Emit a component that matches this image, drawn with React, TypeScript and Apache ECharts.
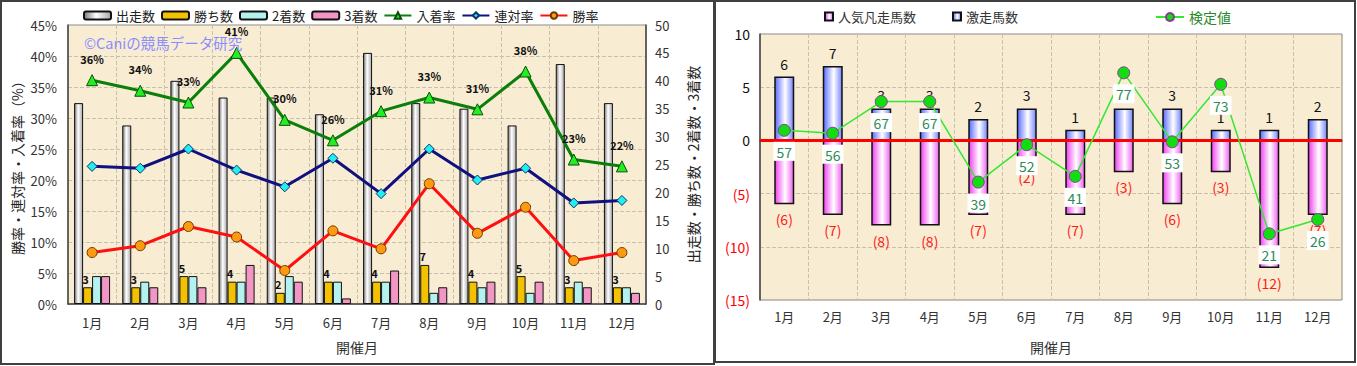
import React, { useEffect, useRef } from "react";
import * as echarts from "echarts";

const months = ["1月", "2月", "3月", "4月", "5月", "6月", "7月", "8月", "9月", "10月", "11月", "12月"];

// Left panel
const starters = [36, 32, 40, 37, 37, 34, 45, 36, 35, 32, 43, 36];
const wins = [3, 3, 5, 4, 2, 4, 4, 7, 4, 5, 3, 3];
const seconds = [5, 4, 5, 4, 5, 4, 4, 2, 3, 2, 4, 3];
const thirds = [5, 3, 3, 7, 4, 1, 6, 3, 4, 4, 3, 2];
const placeRate = [36.1, 34.4, 32.5, 40.5, 29.7, 26.4, 31.1, 33.3, 31.4, 37.5, 23.3, 22.2];
const quinellaRate = [22.2, 21.9, 25.0, 21.6, 18.9, 23.5, 17.8, 25.0, 20.0, 21.9, 16.3, 16.7];
const winRate = [8.3, 9.4, 12.5, 10.8, 5.4, 11.8, 8.9, 19.4, 11.4, 15.6, 7.0, 8.3];

// Right panel
const surgeCount = [6, 7, 3, 3, 2, 3, 1, 3, 3, 1, 1, 2];
const flopCount = [-6, -7, -8, -8, -7, -2, -7, -3, -6, -3, -12, -7];
const testValue = [57, 56, 67, 67, 39, 52, 41, 77, 53, 73, 21, 26];

const FONT = "'Noto Sans CJK JP', 'Noto Sans', sans-serif";

function hGrad(stops: [number, string][]) {
  return new echarts.graphic.LinearGradient(
    0, 0, 1, 0,
    stops.map(([offset, color]) => ({ offset, color }))
  );
}

export default function App() {
  const ref = useRef<HTMLDivElement>(null);

  useEffect(() => {
    if (!ref.current) return;
    const chart = echarts.init(ref.current, undefined, { renderer: "svg" });

    const splitLine = { show: true, lineStyle: { color: "#c9bfae", type: "dashed", width: 1 } };
    const axisLabel = { color: "#333", fontSize: 13, fontFamily: FONT };

    const option: any = {
      animation: false,
      backgroundColor: "#ffffff",
      textStyle: { fontFamily: FONT },
      graphic: [
        { type: "rect", shape: { x: 1, y: 1, width: 713, height: 363 }, style: { fill: "none", stroke: "#404040", lineWidth: 2 }, z: 100 },
        { type: "rect", shape: { x: 715, y: 1, width: 640, height: 361 }, style: { fill: "none", stroke: "#404040", lineWidth: 2 }, z: 100 },
        {
          type: "text",
          x: 84,
          y: 35,
          style: { text: "©Caniの競馬データ研究", fill: "#8a8cff", fontSize: 14.5, fontFamily: FONT },
          z: 50,
        },
      ],
      legend: [
        {
          left: 78,
          top: 4,
          itemWidth: 27,
          itemHeight: 8,
          itemGap: 6,
          textStyle: { fontSize: 13, color: "#222", fontFamily: FONT },
          data: ["出走数", "勝ち数", "2着数", "3着数", "入着率", "連対率", "勝率"],
        },
        {
          left: 819,
          top: 5,
          itemWidth: 8,
          itemHeight: 8,
          itemGap: 36,
          icon: "rect",
          textStyle: { fontSize: 13, color: "#333", fontFamily: FONT },
          data: ["人気凡走馬数", "激走馬数"],
        },
        {
          left: 1150,
          top: 5,
          itemWidth: 28,
          itemHeight: 10,
          textStyle: { fontSize: 14, color: "#2a8a2a", fontFamily: FONT },
          data: ["検定値"],
        },
      ],
      grid: [
        { left: 68, top: 25, width: 578, height: 279, show: true, backgroundColor: "#f8ecd2", borderColor: "#8a8a8a", borderWidth: 1 },
        { left: 760, top: 34, width: 582, height: 266, show: true, backgroundColor: "#f8ecd2", borderColor: "#8a8a8a", borderWidth: 1 },
      ],
      xAxis: [
        {
          type: "category",
          gridIndex: 0,
          data: months,
          axisLine: { lineStyle: { color: "#444", width: 1.5 } },
          axisTick: { show: false },
          axisLabel: { ...axisLabel, margin: 12 },
          splitLine,
          name: "開催月",
          nameLocation: "middle",
          nameGap: 36,
          nameTextStyle: { fontSize: 14, color: "#333", fontFamily: FONT },
        },
        {
          type: "category",
          gridIndex: 1,
          data: months,
          axisLine: { lineStyle: { color: "#444", width: 1.5 } },
          axisTick: { show: false },
          axisLabel: { ...axisLabel, margin: 10 },
          splitLine,
          name: "開催月",
          nameLocation: "middle",
          nameGap: 40,
          nameTextStyle: { fontSize: 14, color: "#333", fontFamily: FONT },
        },
      ],
      yAxis: [
        {
          type: "value",
          gridIndex: 0,
          min: 0,
          max: 45,
          interval: 5,
          axisLine: { show: true, lineStyle: { color: "#444", width: 1.5 } },
          axisTick: { show: false },
          axisLabel: { ...axisLabel, formatter: "{value}%", margin: 11 },
          splitLine,
          name: "勝率・連対率・入着率（%）",
          nameLocation: "middle",
          nameRotate: 90,
          nameGap: 44,
          nameTextStyle: { fontSize: 14, color: "#222", fontFamily: FONT },
        },
        {
          type: "value",
          gridIndex: 0,
          position: "right",
          min: 0,
          max: 50,
          interval: 5,
          axisLine: { show: true, lineStyle: { color: "#444", width: 1.5 } },
          axisTick: { show: false },
          axisLabel: { ...axisLabel, margin: 9 },
          splitLine: { show: false },
          name: "出走数・勝ち数・2着数・3着数",
          nameLocation: "middle",
          nameRotate: 90,
          nameGap: 40,
          nameTextStyle: { fontSize: 14, color: "#222", fontFamily: FONT },
        },
        {
          type: "value",
          gridIndex: 1,
          min: -15,
          max: 10,
          interval: 5,
          axisLine: { show: true, lineStyle: { color: "#444", width: 1.5 } },
          axisTick: { show: false },
          axisLabel: {
            margin: 10,
            fontSize: 14,
            fontFamily: FONT,
            formatter: (v: number) => (v < 0 ? "{n|(" + -v + ")}" : "{p|" + v + "}"),
            rich: {
              n: { color: "#ff0000", fontSize: 14, fontFamily: FONT },
              p: { color: "#111", fontSize: 14, fontFamily: FONT },
            },
          },
          splitLine,
        },
        {
          type: "value",
          gridIndex: 1,
          position: "right",
          min: -2,
          max: 90.5,
          show: false,
          splitLine: { show: false },
        },
      ],
      series: [
        {
          name: "出走数",
          type: "bar",
          xAxisIndex: 0,
          yAxisIndex: 1,
          data: starters,
          barWidth: 9,
          barGap: "0%",
          itemStyle: {
            color: hGrad([[0, "#7a7a7a"], [0.45, "#ffffff"], [1, "#a8a8a8"]]),
            borderColor: "#111",
            borderWidth: 1,
          },
        },
        {
          name: "勝ち数",
          type: "bar",
          xAxisIndex: 0,
          yAxisIndex: 1,
          data: wins,
          barWidth: 9,
          barGap: "0%",
          itemStyle: { color: "#f2c200", borderColor: "#111", borderWidth: 1 },
          label: {
            show: true,
            position: "top",
            distance: 3,
            offset: [-2, 0],
            fontSize: 11,
            fontWeight: "bold",
            color: "#111",
            fontFamily: FONT,
          },
        },
        {
          name: "2着数",
          type: "bar",
          xAxisIndex: 0,
          yAxisIndex: 1,
          data: seconds,
          barWidth: 9,
          barGap: "0%",
          itemStyle: { color: "#b4f2f2", borderColor: "#111", borderWidth: 1 },
        },
        {
          name: "3着数",
          type: "bar",
          xAxisIndex: 0,
          yAxisIndex: 1,
          data: thirds,
          barWidth: 9,
          barGap: "0%",
          itemStyle: { color: "#f296c6", borderColor: "#111", borderWidth: 1 },
        },
        {
          name: "入着率",
          type: "line",
          xAxisIndex: 0,
          yAxisIndex: 0,
          data: placeRate,
          symbol: "triangle",
          symbolSize: 11,
          lineStyle: { color: "#0a800a", width: 3 },
          itemStyle: { color: "#22ee22", borderColor: "#0a500a", borderWidth: 1 },
          label: {
            show: true,
            position: "top",
            distance: 10,
            formatter: (p: any) => Math.round(p.value) + "%",
            fontSize: 11,
            fontWeight: "bold",
            color: "#111",
            fontFamily: FONT,
          },
          z: 5,
        },
        {
          name: "連対率",
          type: "line",
          xAxisIndex: 0,
          yAxisIndex: 0,
          data: quinellaRate,
          symbol: "diamond",
          symbolSize: 10,
          lineStyle: { color: "#101080", width: 3 },
          itemStyle: { color: "#22eeee", borderColor: "#103070", borderWidth: 1 },
          z: 5,
        },
        {
          name: "勝率",
          type: "line",
          xAxisIndex: 0,
          yAxisIndex: 0,
          data: winRate,
          symbol: "circle",
          symbolSize: 10,
          lineStyle: { color: "#ff1010", width: 3 },
          itemStyle: { color: "#ff9a10", borderColor: "#6a3a00", borderWidth: 1 },
          z: 5,
        },
        {
          name: "人気凡走馬数",
          type: "bar",
          xAxisIndex: 1,
          yAxisIndex: 2,
          stack: "r",
          data: flopCount,
          barWidth: 20,
          itemStyle: {
            color: hGrad([[0, "#f040f0"], [0.55, "#ffffff"], [1, "#f060f0"]]),
            borderColor: "#111",
            borderWidth: 1.5,
          },
          label: {
            show: true,
            position: "bottom",
            distance: 8,
            formatter: (p: any) => "(" + Math.abs(p.value) + ")",
            fontSize: 14,
            color: "#ff1a1a",
            fontFamily: FONT,
          },
        },
        {
          name: "激走馬数",
          type: "bar",
          xAxisIndex: 1,
          yAxisIndex: 2,
          stack: "r",
          data: surgeCount,
          barWidth: 20,
          itemStyle: {
            color: hGrad([[0, "#5a6cff"], [0.55, "#ffffff"], [1, "#7484ff"]]),
            borderColor: "#111",
            borderWidth: 1.5,
          },
          label: {
            show: true,
            position: "top",
            distance: 6,
            fontSize: 14,
            color: "#111",
            fontFamily: FONT,
          },
          markLine: {
            silent: true,
            symbol: "none",
            label: { show: false },
            lineStyle: { color: "#ff0000", width: 3, type: "solid" },
            data: [{ yAxis: 0 }],
          },
        },
        {
          name: "検定値",
          type: "line",
          xAxisIndex: 1,
          yAxisIndex: 3,
          data: testValue,
          symbol: "circle",
          symbolSize: 12,
          lineStyle: { color: "#33e833", width: 1.5 },
          itemStyle: { color: "#11dd11", borderColor: "#8a3a9a", borderWidth: 1 },
          label: {
            show: true,
            position: "bottom",
            distance: 5,
            backgroundColor: "#ffffff",
            padding: [3, 3, 2, 3],
            fontSize: 14,
            color: "#2e8b57",
            fontFamily: FONT,
          },
          z: 6,
        },
      ],
    };

    chart.setOption(option);
    return () => chart.dispose();
  }, []);

  return (
    <div
      ref={ref}
      style={{ position: "fixed", left: 0, top: 0, width: 1357, height: 366, background: "#fff" }}
    />
  );
}
